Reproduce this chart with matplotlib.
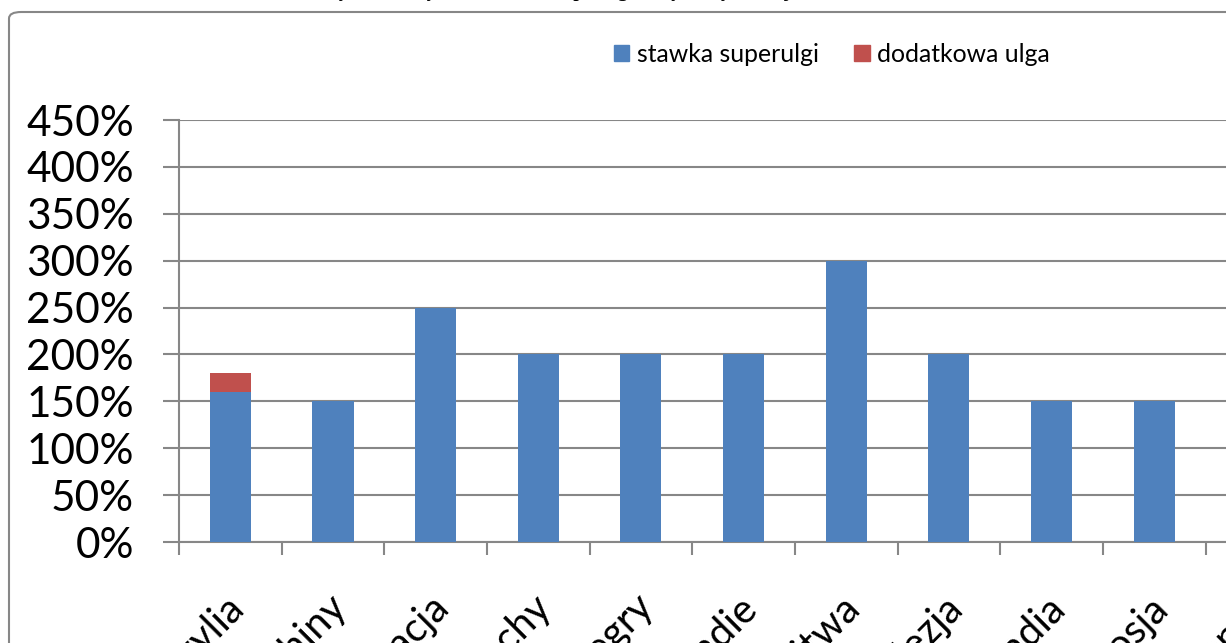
import numpy as np
import matplotlib
matplotlib.use("Agg")
import matplotlib.pyplot as plt
import matplotlib.transforms as mtransforms
from matplotlib.patches import FancyBboxPatch, Patch

plt.rcParams['font.family'] = ['Lato', 'DejaVu Sans']

# data
kraje = ["Brazylia", "Chiny", "Chorwacja", "Czechy", "Węgry", "Indie",
         "Litwa", "Malezja", "Holandia", "Rosja", "Singapur"]
stawka = [1.60, 1.50, 2.50, 2.00, 2.00, 2.00, 3.00, 2.00, 1.50, 1.50, 1.50]
dodatkowa = [0.20, 0, 0, 0, 0, 0, 0, 0, 0, 0, 0]
y_ticks = [0, 0.5, 1.0, 1.5, 2.0, 2.5, 3.0, 3.5, 4.0, 4.5]
tytul = "Wykres 1. Wysokość stawki superulgi w wybranych krajach"

blue = "#4F81BD"
red = "#C0504D"
gray = "#878787"

W, H = 1226, 643
fig = plt.figure(figsize=(W / 100, H / 100), dpi=100)

# outer chart frame (cropped on the right and bottom)
frame = FancyBboxPatch((9 / W, -0.2), 1.2, (H - 12) / H + 0.2,
                       boxstyle="round,pad=0,rounding_size=0.01",
                       transform=fig.transFigure, facecolor="none",
                       edgecolor=gray, linewidth=1.5, zorder=-1)
fig.patches.append(frame)

fig.text(0.465, 1.0 + 3 / H, tytul, ha="center", va="baseline",
         family="Liberation Serif", fontsize=14, fontweight="bold")

n = len(kraje)
cat_w = 102.65
left, bottom, top = 179, 542, 120
ax = fig.add_axes([left / W, (H - bottom) / H, n * cat_w / W, (bottom - top) / H])
ax.set_facecolor("none")

x = np.arange(n)
ax.bar(x, stawka, width=0.4, color=blue, zorder=3, label="stawka superulgi")
ax.bar(x, dodatkowa, width=0.4, bottom=stawka, color=red, zorder=3,
       label="dodatkowa ulga")

ax.set_xlim(-0.5, n - 0.5)
ax.set_ylim(0, 4.5)
ax.set_yticks(y_ticks)
ax.set_yticklabels([f"{int(round(v * 100))}%" for v in y_ticks], fontsize=30.5)
ax.yaxis.grid(True, color=gray, linewidth=1.5, zorder=0)
ax.set_axisbelow(True)

# category names as rotated texts under the bars
ax.set_xticks(x)
ax.set_xticklabels([])
off = mtransforms.ScaledTranslation(-6 / 100, -46 / 100, fig.dpi_scale_trans)
for i, name in enumerate(kraje):
    ax.text(i, 0, name, transform=ax.get_xaxis_transform() + off,
            fontsize=29, rotation=45, ha="right", va="top",
            rotation_mode="anchor", clip_on=False)

ax.set_xticks(np.arange(n + 1) - 0.5, minor=True)
ax.tick_params(axis="x", which="major", length=0)
ax.tick_params(axis="x", which="minor", length=9.5, width=1.5, color=gray,
               direction="out")
ax.tick_params(axis="y", length=11.5, width=1.5, color=gray, pad=21)

for s in ["top", "right"]:
    ax.spines[s].set_visible(False)
for s in ["left", "bottom"]:
    ax.spines[s].set_color(gray)
    ax.spines[s].set_linewidth(1.5)

handles = [Patch(color=blue), Patch(color=red)]
fig.legend(handles, ["stawka superulgi", "dodatkowa ulga"], ncol=2,
           loc="center left", bbox_to_anchor=(614 / W, 1 - 54 / H),
           frameon=False, fontsize=17.8, handlelength=0.62, handleheight=0.62,
           handletextpad=0.3, columnspacing=1.45, borderpad=0, borderaxespad=0)

fig.savefig("out.png", dpi=100)
